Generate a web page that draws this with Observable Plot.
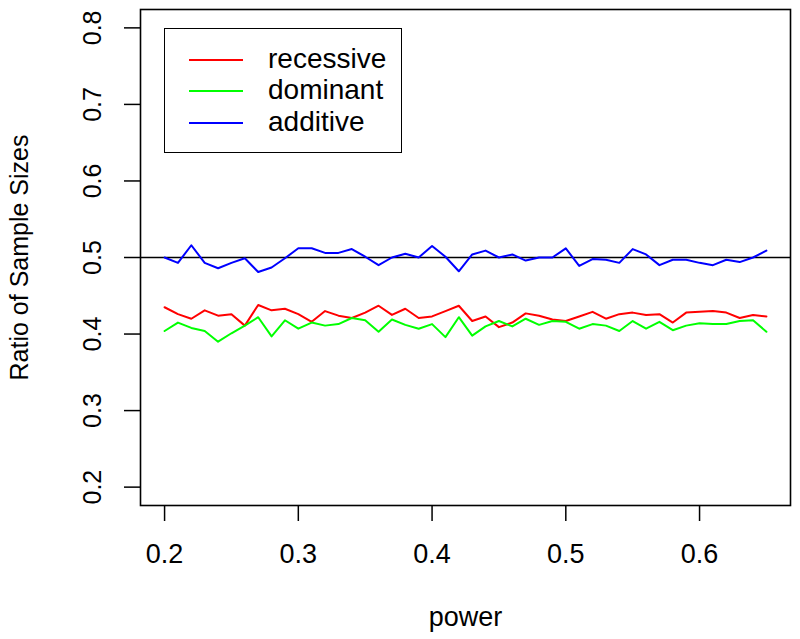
<!DOCTYPE html>
<html>
<head>
<meta charset="utf-8">
<script src="https://cdn.jsdelivr.net/npm/d3@7"></script>
<script src="https://cdn.jsdelivr.net/npm/@observablehq/plot@0.6"></script>
<style>
  html, body { margin: 0; padding: 0; background: white; }
  #wrap { position: relative; width: 800px; height: 639px; font-family: "Liberation Sans", Arial, Helvetica, sans-serif; }
  #legend { position: absolute; left: 164px; top: 28px; width: 238px; height: 125px; box-sizing: border-box; border: 1.5px solid black; background: white; }
  .row { position: absolute; left: 0; height: 0; }
  .sw { position: absolute; left: 24px; width: 54px; height: 1.5px; top: -0.75px; }
  .lab { position: absolute; left: 103px; top: -17px; font-size: 28px; line-height: 32px; white-space: nowrap; color: black; }
</style>
</head>
<body>
<div id="wrap"></div>
<script>
// x values (power)
const power = [0.20,0.21,0.22,0.23,0.24,0.25,0.26,0.27,0.28,0.29,
               0.30,0.31,0.32,0.33,0.34,0.35,0.36,0.37,0.38,0.39,
               0.40,0.41,0.42,0.43,0.44,0.45,0.46,0.47,0.48,0.49,
               0.50,0.51,0.52,0.53,0.54,0.55,0.56,0.57,0.58,0.59,
               0.60,0.61,0.62,0.63,0.64,0.65];
const recessive = [0.435,0.426,0.420,0.431,0.424,0.426,0.411,0.438,0.431,0.433,
                   0.426,0.416,0.430,0.424,0.421,0.428,0.437,0.425,0.433,0.421,
                   0.423,0.430,0.437,0.417,0.423,0.409,0.415,0.427,0.424,0.419,
                   0.417,0.423,0.429,0.420,0.426,0.428,0.425,0.426,0.415,0.428,
                   0.429,0.430,0.428,0.421,0.425,0.423];
const dominant = [0.404,0.415,0.408,0.404,0.390,0.401,0.411,0.422,0.397,0.418,
                  0.407,0.415,0.411,0.413,0.421,0.418,0.403,0.419,0.412,0.407,
                  0.413,0.396,0.422,0.398,0.410,0.417,0.410,0.420,0.412,0.417,
                  0.416,0.407,0.413,0.411,0.404,0.417,0.407,0.416,0.405,0.411,
                  0.414,0.413,0.413,0.417,0.418,0.403];
const additive = [0.500,0.493,0.516,0.493,0.486,0.493,0.499,0.481,0.487,0.499,
                  0.512,0.512,0.506,0.506,0.511,0.501,0.490,0.500,0.505,0.500,
                  0.515,0.501,0.482,0.504,0.509,0.500,0.504,0.496,0.500,0.500,
                  0.512,0.489,0.498,0.497,0.493,0.511,0.504,0.490,0.497,0.497,
                  0.493,0.490,0.497,0.494,0.500,0.509];
const seriesNames = ["recessive", "dominant", "additive"];
const seriesColors = ["#ff0000", "#00ff00", "#0000ff"];
const referenceLine = [0.5];
const xTicks = [0.2, 0.3, 0.4, 0.5, 0.6];
const yTicks = [0.2, 0.3, 0.4, 0.5, 0.6, 0.7, 0.8];
const xTitle = "power";
const yTitle = "Ratio of Sample Sizes";

const seriesValues = [recessive, dominant, additive];
const data = [];
seriesNames.forEach((name, s) => {
  power.forEach((p, i) => data.push({power: p, value: seriesValues[s][i], series: name}));
});

const chart = Plot.plot({
  width: 800,
  height: 639,
  marginLeft: 140,
  marginRight: 10,
  marginTop: 9,
  marginBottom: 134,
  style: {fontFamily: "'Liberation Sans', Arial, Helvetica, sans-serif", background: "white", color: "black"},
  x: {domain: [0.182, 0.668]},
  y: {domain: [0.176, 0.824]},
  color: {domain: seriesNames, range: seriesColors},
  marks: [
    Plot.axisX(xTicks, {tickSize: 16, tickPadding: 22, fontSize: 27, strokeWidth: 1.5, label: null, tickFormat: d => d.toFixed(1)}),
    Plot.axisY(yTicks, {tickSize: 16, tickPadding: 24, tickRotate: -90, fontSize: 25, strokeWidth: 1.5, label: null, tickFormat: d => d.toFixed(1)}),
    Plot.ruleY(referenceLine, {stroke: "black", strokeWidth: 1.6}),
    Plot.line(data, {x: "power", y: "value", z: "series", stroke: "series", strokeWidth: 2}),
    Plot.frame({stroke: "black", strokeWidth: 1.6}),
    Plot.text([xTitle], {frameAnchor: "bottom", dy: 120, lineAnchor: "bottom", textAnchor: "middle", fontSize: 27, fill: "black"}),
    Plot.text([yTitle], {frameAnchor: "left", dx: -113, rotate: -90, lineAnchor: "bottom", textAnchor: "middle", fontSize: 25, fill: "black"})
  ]
});

const wrap = document.getElementById("wrap");
wrap.appendChild(chart);

// legend overlay
const legend = document.createElement("div");
legend.id = "legend";
const rowTops = [31, 62, 94];
seriesNames.forEach((name, i) => {
  const row = document.createElement("div");
  row.className = "row";
  row.style.top = rowTops[i] + "px";
  const sw = document.createElement("div");
  sw.className = "sw";
  sw.style.backgroundColor = seriesColors[i];
  const lab = document.createElement("div");
  lab.className = "lab";
  lab.textContent = name;
  row.appendChild(sw);
  row.appendChild(lab);
  legend.appendChild(row);
});
wrap.appendChild(legend);
</script>
</body>
</html>
